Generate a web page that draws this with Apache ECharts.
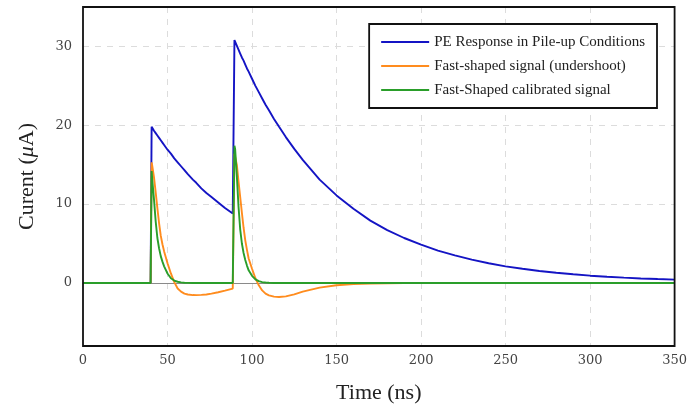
<!DOCTYPE html>
<html>
<head>
<meta charset="utf-8">
<script src="https://cdn.jsdelivr.net/npm/echarts@6/dist/echarts.min.js"></script>
<style>html,body{margin:0;padding:0;background:#fff;}#c{width:690px;height:409px;}</style>
</head>
<body>
<div id="c"></div>
<script>
const time = [0, 40, 40.6, 41, 42, 43, 44, 45, 46, 47, 48, 50, 52, 54, 56, 58, 60, 62, 65, 67, 70, 73, 76, 80, 84, 88.6,
  89.6, 90, 91, 92, 93, 94, 95, 96, 97, 98, 100, 102, 104, 106, 108, 110, 113, 116, 120, 125, 130, 140, 150, 160, 170,
  180, 190, 200, 210, 220, 230, 240, 250, 260, 270, 280, 290, 300, 310, 320, 330, 340, 350];

const peResponse = [0, 0, 19.8, 19.6, 19.3, 19.0, 18.7, 18.4, 18.1, 17.8, 17.5, 16.9, 16.4, 15.8, 15.3, 14.8, 14.3, 13.8, 13.1, 12.7, 12.0, 11.4, 10.9, 10.2, 9.5, 8.8,
  30.8, 30.6, 30.1, 29.6, 29.1, 28.6, 28.2, 27.7, 27.2, 26.8, 25.9, 25.0, 24.2, 23.4, 22.6, 21.9, 20.8, 19.8, 18.5, 17.0, 15.6, 13.1, 11.1, 9.4, 7.9,
  6.7, 5.7, 4.85, 4.1, 3.5, 2.95, 2.5, 2.1, 1.8, 1.52, 1.3, 1.1, 0.92, 0.78, 0.67, 0.57, 0.49, 0.42];

const fastShaped = [0, 0, 15.3, 14.8, 13.4, 11.5, 9.5, 7.6, 6.0, 4.9, 4.0, 2.5, 1.2, 0.1, -0.7, -1.1, -1.35, -1.47, -1.54, -1.55, -1.52, -1.46, -1.36, -1.18, -0.98, -0.72,
  16.4, 16.0, 15.0, 12.9, 10.9, 8.9, 7.0, 5.4, 4.2, 3.1, 1.8, 0.6, -0.3, -0.95, -1.35, -1.58, -1.74, -1.78, -1.7, -1.45, -1.1, -0.6, -0.3, -0.15, -0.08,
  -0.04, -0.02, 0, 0, 0, 0, 0, 0, 0, 0, 0, 0, 0, 0, 0, 0, 0, 0];

const calibrated = [0, 0, 14.2, 13.0, 10.6, 7.8, 5.7, 4.4, 3.4, 2.7, 2.1, 1.2, 0.6, 0.3, 0.15, 0.07, 0.03, 0.01, 0, 0, 0, 0, 0, 0, 0, 0,
  17.4, 17.0, 13.6, 9.7, 6.8, 5.0, 3.8, 2.9, 2.2, 1.6, 0.9, 0.45, 0.22, 0.1, 0.05, 0.02, 0, 0, 0, 0, 0, 0, 0, 0, 0,
  0, 0, 0, 0, 0, 0, 0, 0, 0, 0, 0, 0, 0, 0, 0, 0, 0, 0];

const seriesNames = ['PE Response in Pile-up Conditions', 'Fast-shaped signal (undershoot)', 'Fast-Shaped calibrated signal'];
const xTicks = [0, 50, 100, 150, 200, 250, 300, 350];
const yTicks = [0, 10, 20, 30];

const colors = ['#1414c4', '#ff8c1e', '#2a9e2a'];
const seriesValues = [peResponse, fastShaped, calibrated];

const chart = echarts.init(document.getElementById('c'), null, {renderer: 'canvas'});
const serif = '"Liberation Serif", "Times New Roman", serif';
const tickFont = '"DejaVu Serif", serif';

chart.setOption({
  backgroundColor: '#fff',
  animation: false,
  grid: {left: 83, top: 7, right: 13, bottom: 60, show: true, borderColor: '#111', borderWidth: 1.8, backgroundColor: 'transparent', z: 10},
  legend: {
    orient: 'vertical', right: 33, top: 24,
    data: seriesNames,
    icon: 'rect', itemWidth: 48, itemHeight: 2, itemGap: 8,
    padding: [10, 12, 10, 12],
    borderColor: '#111', borderWidth: 1.8, backgroundColor: '#fff',
    textStyle: {fontFamily: serif, fontSize: 15, color: '#222', lineHeight: 16}
  },
  xAxis: {
    type: 'value', min: 0, max: 350, interval: 50,
    name: 'Time (ns)', nameLocation: 'middle', nameGap: 36,
    nameTextStyle: {fontFamily: serif, fontSize: 22, color: '#222'},
    axisLine: {show: true, onZero: true, lineStyle: {color: '#8a8a8a', width: 1}},
    axisTick: {show: false},
    axisLabel: {fontFamily: tickFont, fontSize: 13, color: '#444', margin: 8,
      formatter: v => xTicks.includes(v) ? String(v) : ''},
    splitLine: {show: true, showMinLine: false, showMaxLine: false, lineStyle: {color: '#dcdcdc', type: [6, 6], width: 1}}
  },
  yAxis: {
    type: 'value', min: -8, max: 35,
    name: 'Curent ({i|μ}A)', nameLocation: 'middle', nameGap: 45,
    nameTextStyle: {fontFamily: serif, fontSize: 22, color: '#222',
      rich: {i: {fontFamily: serif, fontSize: 22, fontStyle: 'italic', color: '#222'}}},
    axisLine: {show: false},
    axisTick: {show: false},
    axisLabel: {fontFamily: tickFont, fontSize: 13, color: '#444', margin: 11,
      showMinLabel: false, showMaxLabel: false,
      formatter: v => yTicks.includes(v) ? String(v) : ''},
    splitLine: {show: true, showMinLine: false, showMaxLine: false, lineStyle: {color: '#dcdcdc', type: [6, 6], width: 1}}
  },
  series: seriesNames.map((name, k) => ({
    name: name, type: 'line', showSymbol: false, symbol: 'none',
    color: colors[k],
    lineStyle: {color: colors[k], width: 1.9},
    data: time.map((t, i) => [t, seriesValues[k][i]]),
    z: 3 + k
  }))
});
</script>
</body>
</html>
